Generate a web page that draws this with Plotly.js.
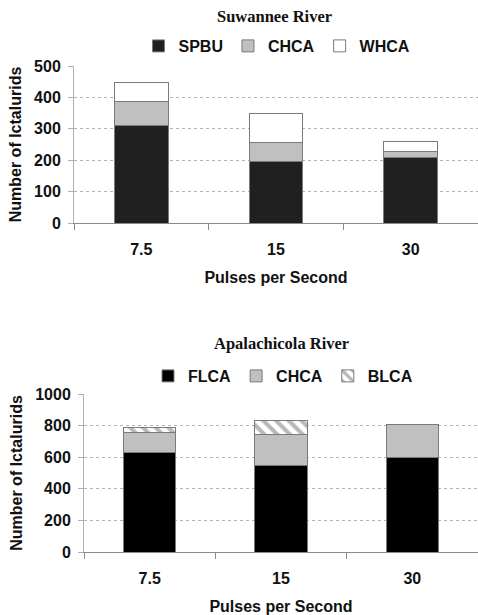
<!DOCTYPE html>
<html>
<head>
<meta charset="utf-8">
<script src="https://cdn.plot.ly/plotly-3.0.1.min.js"></script>
<style>html,body{margin:0;padding:0;background:#fff;}#chart{width:478px;height:615px;}</style>
</head>
<body>
<div id="chart"></div>
<script>
// Data
const pulses = ["7.5", "15", "30"];
// Suwannee River
const spbu = [310, 195, 210];
const chcaSuwannee = [78, 60, 18];
const whca = [60, 93, 32];
// Apalachicola River
const flca = [630, 550, 600];
const chcaApalachicola = [127, 195, 205];
const blca = [28, 90, 0];

const titleTop = "Suwannee River";
const titleBottom = "Apalachicola River";
const xTitle = "Pulses per Second";
const yTitle = "Number of Ictalurids";

const edge = {color: "#7a7a7a", width: 1};
const W = 478, H = 615;

const traces = [
  {type: "bar", name: "SPBU", x: pulses, y: spbu, xaxis: "x", yaxis: "y", legend: "legend",
   marker: {color: "#202020", line: edge}},
  {type: "bar", name: "CHCA", x: pulses, y: chcaSuwannee, xaxis: "x", yaxis: "y", legend: "legend",
   marker: {color: "#c0c0c0", line: edge}},
  {type: "bar", name: "WHCA", x: pulses, y: whca, xaxis: "x", yaxis: "y", legend: "legend",
   marker: {color: "#ffffff", line: edge}},
  {type: "bar", name: "FLCA", x: pulses, y: flca, xaxis: "x2", yaxis: "y2", legend: "legend2",
   marker: {color: "#000000", line: edge}},
  {type: "bar", name: "CHCA", x: pulses, y: chcaApalachicola, xaxis: "x2", yaxis: "y2", legend: "legend2",
   marker: {color: "#c0c0c0", line: edge}},
  {type: "bar", name: "BLCA", x: pulses, y: blca, xaxis: "x2", yaxis: "y2", legend: "legend2",
   marker: {color: "#ffffff", line: edge,
            pattern: {shape: "\\", fgcolor: "#b8b8b8", bgcolor: "#ffffff", size: 9, solidity: 0.45}}}
];

const fontSans = "Liberation Sans, Arial, sans-serif";
const fontSerif = "Liberation Serif, Times New Roman, serif";

function xAxis(domain, anchor) {
  return {
    domain: domain, anchor: anchor, type: "category",
    showline: true, linecolor: "#8a8a8a", linewidth: 1,
    ticks: "outside", tickson: "boundaries", ticklen: 6, tickcolor: "#8a8a8a",
    ticklabelstandoff: 12,
    showgrid: false, zeroline: false, fixedrange: true,
    tickfont: {family: fontSans, size: 16, color: "#111", weight: "bold"},
    title: {text: xTitle, standoff: 14, font: {family: fontSans, size: 16, color: "#111", weight: "bold"}}
  };
}
function yAxis(domain, anchor, range, dtick) {
  return {
    domain: domain, anchor: anchor, range: range, dtick: dtick,
    showline: true, linecolor: "#b0b0b0", linewidth: 1,
    ticks: "outside", ticklen: 5, tickcolor: "#b0b0b0",
    ticklabelstandoff: 4,
    showgrid: true, gridcolor: "#b4b4b4", griddash: "dot", gridwidth: 1,
    zeroline: false, fixedrange: true,
    tickfont: {family: fontSans, size: 16, color: "#111", weight: "bold"},
    title: {text: yTitle, standoff: 8, font: {family: fontSans, size: 16, color: "#111", weight: "bold"}}
  };
}

const legendFont = {family: fontSans, size: 16, color: "#111", weight: "bold"};

const layout = {
  width: W, height: H,
  margin: {l: 0, r: 0, t: 0, b: 0, pad: 0},
  paper_bgcolor: "#fff", plot_bgcolor: "#fff",
  barmode: "stack", bargap: 0.6,
  font: {family: fontSans, size: 16, color: "#111"},
  xaxis: xAxis([74 / W, 1], "y"),
  yaxis: yAxis([(H - 223) / H, (H - 66) / H], "x", [0, 500], 100),
  xaxis2: xAxis([84 / W, 1], "y2"),
  yaxis2: yAxis([(H - 552) / H, (H - 394) / H], "x2", [0, 1000], 200),
  legend: {orientation: "h", x: 277 / W, xanchor: "center", y: (H - 46) / H, yanchor: "middle",
           font: legendFont, traceorder: "normal", itemwidth: 30, bgcolor: "rgba(0,0,0,0)"},
  legend2: {orientation: "h", x: 283 / W, xanchor: "center", y: (H - 376) / H, yanchor: "middle",
           font: legendFont, traceorder: "normal", itemwidth: 30, bgcolor: "rgba(0,0,0,0)"},
  annotations: [
    {text: titleTop, xref: "paper", yref: "paper", x: 274 / W, y: (H - 17) / H, xanchor: "center", yanchor: "middle",
     showarrow: false, font: {family: fontSerif, size: 16.5, color: "#111", weight: "bold"}},
    {text: titleBottom, xref: "paper", yref: "paper", x: 281 / W, y: (H - 343) / H, xanchor: "center", yanchor: "middle",
     showarrow: false, font: {family: fontSerif, size: 16.5, color: "#111", weight: "bold"}}
  ]
};

Plotly.newPlot("chart", traces, layout, {staticPlot: true, displayModeBar: false});
</script>
</body>
</html>
